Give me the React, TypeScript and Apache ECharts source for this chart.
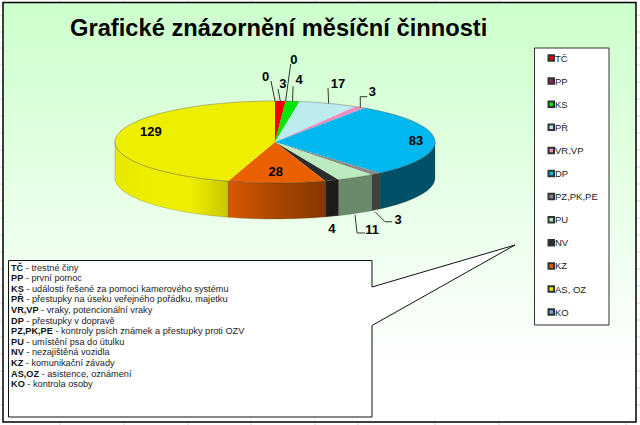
import React, { useEffect, useRef } from "react";
import * as echarts from "echarts";

const categories = ["TČ", "PP", "KS", "PŘ", "VR,VP", "DP", "PZ,PK,PE", "PU", "NV", "KZ", "AS, OZ", "KO"];
const values = [3, 0, 4, 17, 3, 83, 3, 11, 4, 28, 129, 0];
const topColors = ["#ee0000", "#7f2a5c", "#00e600", "#bdecef", "#f08cc4", "#00b8ee", "#8a8a8a", "#bcebc0", "#2b2b2b", "#ea6000", "#eeee00", "#6ea6dc"];
const sideColors: (string | string[])[] = ["#aa0000", "#55183c", "#00a000", "#86a6a8", "#a86088", "#005068", "#404040", "#6b8a6c", "#1c1c1c", ["#d85800", "#aa4600", "#863600"], ["#e8e800", "#eeee00", "#eeee00", "#c8c800"], "#4a7098"];

// label offset from the slice's rim point: [dx, dy, leader points...]
const labelDx = [2.7, 8.4, 6.4, 9.4, 12, -18.7, 22, 16.3, 0, -1, 34.2, -9.3];
const labelDy = [-18, -42, -22, -19.4, -16, 0.5, 45.5, 52.6, 48, -11, -4, -25];
const leaders: number[][][] = [
  [[0, 0], [-2.3, -12]],
  [[0, 0], [5.1, -37]],
  [[0, 0], [0.4, -15]],
  [[0, 0], [-0.6, -15.4]],
  [[0, 0], [0, -10.6], [7, -10.6]],
  [],
  [[-1, 38], [9, 48], [16, 48]],
  [[-0.7, 37.6], [1.3, 55.6], [9.3, 55.6]],
  [],
  [],
  [],
  [[0, 0], [-4, -20]],
];

const titleText = "Grafické znázornění měsíční činnosti";
const noteKeys = ["TČ", "PP", "KS", "PŘ", "VR,VP", "DP", "PZ,PK,PE", "PU", "NV", "KZ", "AS,OZ", "KO"];
const noteTexts = [
  "trestné činy",
  "první pomoc",
  "události řešené za pomoci kamerového systému",
  "přestupky na úseku veřejného pořádku, majetku",
  "vraky, potencionální vraky",
  "přestupky v dopravě",
  "kontroly psích známek a přestupky proti OZV",
  "umístění psa do útulku",
  "nezajištěná vozidla",
  "komunikační závady",
  "asistence, oznámení",
  "kontrola osoby",
];
const gridX = [60, 124, 188, 251, 315, 358, 435, 499, 626];
const gridY = [15, 32, 48, 65, 82, 99, 116, 133, 150, 167, 184, 201, 218, 235, 252, 269, 286, 303, 320, 337, 354, 371, 388, 405];

const FONT = '"Liberation Sans", Arial, sans-serif';
const CX = 275;
const CY = 142;
const RX = 160;
const RY = 41;
const DEPTH = 36;
const total = values.reduce((a, b) => a + b, 0);

const pt = (deg: number, dy = 0): number[] => {
  const r = (deg * Math.PI) / 180;
  return [CX + RX * Math.sin(r), CY - RY * Math.cos(r) + dy];
};
const arc = (a: number, b: number, dy = 0): number[][] => {
  const n = Math.max(1, Math.ceil(Math.abs(b - a) / 2));
  const out: number[][] = [];
  for (let i = 0; i <= n; i++) out.push(pt(a + ((b - a) * i) / n, dy));
  return out;
};

function renderSlice(index: number) {
  const before = values.slice(0, index).reduce((a, b) => a + b, 0);
  const a0 = (before / total) * 360;
  const a1 = ((before + values[index]) / total) * 360;
  const children: any[] = [];
  if (a1 > a0) {
    const s0 = Math.max(a0, 90);
    const s1 = Math.min(a1, 270);
    if (s1 > s0) {
      const side = sideColors[index];
      const fill = Array.isArray(side)
        ? new echarts.graphic.LinearGradient(0, 0, 1, 0, side.map((color, i) => ({ offset: i / (side.length - 1), color })))
        : side;
      children.push({
        type: "polygon",
        shape: { points: [...arc(s0, s1), ...arc(s1, s0, DEPTH)] },
        style: { fill, stroke: "rgba(60,60,30,0.35)", lineWidth: 0.6 },
      });
    }
    children.push({
      type: "polygon",
      shape: { points: [[CX, CY], ...arc(a0, a1)] },
      style: { fill: topColors[index] },
    });
    children.push({
      type: "polyline",
      shape: { points: arc(a0, a1) },
      style: { fill: "none", stroke: "rgba(70,70,70,0.5)", lineWidth: 0.7 },
    });
  }
  const anchor = pt((a0 + a1) / 2);
  if (leaders[index].length) {
    children.push({
      type: "polyline",
      shape: { points: leaders[index].map((p) => [anchor[0] + p[0], anchor[1] + p[1]]) },
      style: { fill: "none", stroke: "#333", lineWidth: 1 },
      z2: 10,
    });
  }
  children.push({
    type: "text",
    z2: 11,
    style: {
      text: String(values[index]),
      x: anchor[0] + labelDx[index],
      y: anchor[1] + labelDy[index],
      align: "center",
      verticalAlign: "middle",
      fill: "#000",
      font: `bold 13px ${FONT}`,
    },
  });
  return { type: "group", children };
}

export default function App() {
  const ref = useRef<HTMLDivElement>(null);
  useEffect(() => {
    const chart = echarts.init(ref.current!, undefined, { renderer: "svg" });
    const graphicElements: any[] = [
      ...gridX.map((x) => ({ type: "line", z: -30, shape: { x1: x, y1: 0, x2: x, y2: 425 }, style: { stroke: "#d6d6d6", lineWidth: 1 } })),
      ...gridY.map((y) => ({ type: "line", z: -30, shape: { x1: 0, y1: y, x2: 640, y2: y }, style: { stroke: "#d6d6d6", lineWidth: 1 } })),
      {
        type: "rect",
        z: -10,
        shape: { x: 3, y: 2.5, width: 633, height: 419.5 },
        style: {
          fill: new echarts.graphic.LinearGradient(0, 0, 0, 1, [
            { offset: 0, color: "#ccffcc" },
            { offset: 0.88, color: "#ffffff" },
            { offset: 1, color: "#ffffff" },
          ]),
          stroke: "#000",
          lineWidth: 1.5,
        },
      },
      {
        type: "rect",
        z: 1,
        shape: { x: 534.5, y: 48, width: 74.5, height: 277 },
        style: { fill: "#fff", stroke: "#333", lineWidth: 1 },
      },
      {
        type: "polygon",
        z: 1,
        shape: { points: [[8.5, 260.5], [372, 260.5], [372, 287], [515, 245], [372, 325.5], [372, 417], [8.5, 417]] },
        style: { fill: "#fff", stroke: "#111", lineWidth: 1 },
      },
      ...noteKeys.map((key, i) => ({
        type: "text",
        z: 2,
        style: {
          text: `{b|${key}}{n| - ${noteTexts[i]}}`,
          x: 11,
          y: 267.5 + i * 10.62,
          verticalAlign: "middle",
          rich: {
            b: { font: `bold 9.2px ${FONT}`, fill: "#111" },
            n: { font: `9.2px ${FONT}`, fill: "#222" },
          },
        },
      })),
    ];
    chart.setOption({
      animation: false,
      title: {
        text: titleText,
        left: 70,
        top: 16,
        padding: 0,
        textStyle: { fontFamily: FONT, fontWeight: "bold", fontSize: 23.7, color: "#000" },
      },
      legend: {
        orient: "vertical",
        left: 547.5,
        top: 53,
        padding: 0,
        itemWidth: 5.5,
        itemHeight: 5.5,
        itemGap: 13.1,
        icon: "rect",
        selectedMode: false,
        data: categories,
        textStyle: { fontFamily: FONT, fontSize: 9.5, color: "#222", padding: [0, 0, 0, -4] },
      },
      graphic: { elements: graphicElements },
      series: categories.map((name, i) => ({
        type: "custom",
        name,
        coordinateSystem: "none",
        silent: true,
        clip: false,
        itemStyle: { color: topColors[i], borderColor: "#333", borderWidth: 0.5 },
        data: [[values[i]]],
        renderItem: () => renderSlice(i),
      })),
    });
    return () => chart.dispose();
  }, []);
  return <div ref={ref} style={{ position: "fixed", left: 0, top: 0, width: 640, height: 425, background: "#fff" }} />;
}
